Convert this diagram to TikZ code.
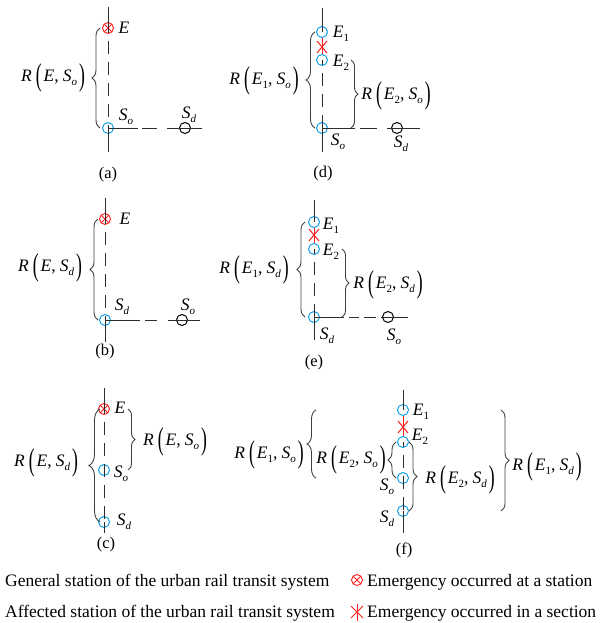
\documentclass[tikz,border=0pt]{standalone}
\usepackage{fontspec}
\setmainfont{Liberation Serif}
\usepackage{graphicx}
\usetikzlibrary{decorations.pathreplacing,shapes.misc}
\definecolor{stblue}{RGB}{20,160,230}
\definecolor{emred}{RGB}{250,30,30}
\definecolor{lncol}{RGB}{45,45,45}
\newcommand\mySUB[1]{\raisebox{-4.5pt}{\fontsize{11}{11}\selectfont #1}}
\newcommand\myLP{\raisebox{-4.5pt}{\scalebox{1}[1.8]{(}}}
\newcommand\myRP{\raisebox{-4.5pt}{\scalebox{1}[1.8]{)}}}
\newcommand\myE{\textit{E}}
\newcommand\myEa{\textit{E}\mySUB{1}}
\newcommand\myEb{\textit{E}\mySUB{2}}
\newcommand\mySo{\textit{S}\mySUB{\itshape o}}
\newcommand\mySd{\textit{S}\mySUB{\itshape d}}
\newcommand\myR[2]{\textit{R}\hspace{4pt}\myLP\hspace{2pt}#1,\hspace{4pt}#2\hspace{2pt}\myRP}
\tikzset{
  ln/.style={draw=lncol, line width=1pt},
  dashv/.style={ln, dash pattern=on 13pt off 8pt, dash phase=8pt},
  redln/.style={draw=emred, line width=1pt},
  gst/.style={circle, draw=stblue, line width=1pt, minimum size=11pt, inner sep=0pt},
  ost/.style={circle, draw=black, line width=1pt, minimum size=11pt, inner sep=0pt},
  est/.style={circle, draw=emred, line width=0.9pt, minimum size=11pt, inner sep=0pt,
    path picture={\draw[emred,line width=0.9pt]
      (path picture bounding box.north west)--(path picture bounding box.south east)
      (path picture bounding box.north east)--(path picture bounding box.south west);}},
  xsec/.style={cross out, draw=emred, line width=1pt, minimum width=9pt, minimum height=11pt, inner sep=0pt},
  lbl/.style={inner sep=0pt, font=\fontsize{17.5}{21}\selectfont},
  capt/.style={inner sep=0pt, font=\fontsize{16.5}{20}\selectfont},
  lbr/.style={draw=black!75, line width=0.9pt, decorate, decoration={brace, amplitude=#1}},
  lbr/.default=8pt,
}
\begin{document}
\begin{tikzpicture}[x=1pt,y=-1pt]
\path[use as bounding box] (0,0) rectangle (602,623);

% ---------- (a)
\coordinate (aT) at (108,7); \coordinate (aB) at (108,152); \coordinate (aR) at (202,128);
\node[est] (aE) at (108,28) {};
\node[gst] (aSo) at (108,128) {};
\node[ost] (aSd) at (185,128) {};
\draw[ln] (aT) -- (aE.center);
\draw[dashv] (aE.center) -- (aSo.center);
\draw[ln] (aSo.center) -- (aB);
\draw[ln, dash pattern=on 30pt off 4pt on 15pt off 10pt on 100pt] (aSo.center) -- (aR);
\node[lbl] (aEl) at (124,28) {\myE};
\node[lbl] (aSol) at (126,117) {\mySo};
\node[lbl] (aSdl) at (189,115) {\mySd};
\draw[lbr] ([xshift=-8pt]aSo.center) -- ([xshift=-8pt]aE.center);
\node[lbl] (aRl) at (53,78) {\myR{\myE}{\mySo}};
\node[capt] (acap) at (108,175) {(a)};

% ---------- (b)
\coordinate (bT) at (105,198); \coordinate (bB) at (105,342); \coordinate (bR) at (200,320);
\node[est] (bE) at (105,219) {};
\node[gst] (bSd) at (105,320) {};
\node[ost] (bSo) at (182,320) {};
\draw[ln] (bT) -- (bE.center);
\draw[dashv] (bE.center) -- (bSd.center);
\draw[ln] (bSd.center) -- (bB);
\draw[ln, dash pattern=on 35pt off 5pt on 12pt off 11pt on 100pt] (bSd.center) -- (bR);
\node[lbl] (bEl) at (125,219) {\myE};
\node[lbl] (bSdl) at (122,307) {\mySd};
\node[lbl] (bSol) at (188,307) {\mySo};
\draw[lbr] ([xshift=-7pt]bSd.center) -- ([xshift=-7pt]bE.center);
\node[lbl] (bRl) at (50,268) {\myR{\myE}{\mySd}};
\node[capt] (bcap) at (105,352) {(b)};

% ---------- (c)
\coordinate (cT) at (104,388); \coordinate (cB) at (104,533);
\node[est] (cE) at (104,409) {};
\node[gst] (cSo) at (104,470) {};
\node[gst] (cSd) at (104,522) {};
\draw[ln] (cT) -- (cE.center);
\draw[dashv] (cE.center) -- (cSd.center);
\draw[ln] (cSd.center) -- (cB);
\node[lbl] (cEl) at (120,408) {\myE};
\node[lbl] (cSol) at (121,474) {\mySo};
\node[lbl] (cSdl) at (124,522) {\mySd};
\draw[lbr=11pt] ([xshift=-4pt]cSd.center) -- ([xshift=-4pt]cE.center);
\draw[lbr=7pt] ([xshift=24pt]cE.center) -- ([xshift=24pt]cSo.center);
\node[lbl] (cRdl) at (46,463) {\myR{\myE}{\mySd}};
\node[lbl] (cRol) at (175,442) {\myR{\myE}{\mySo}};
\node[capt] (ccap) at (106,545) {(c)};

% ---------- (d)
\coordinate (dT) at (322,8); \coordinate (dB) at (322,152); \coordinate (dR) at (420,128);
\node[gst] (dE1) at (322,32) {};
\node[gst] (dE2) at (322,60) {};
\node[gst] (dSo) at (322,128) {};
\node[ost] (dSd) at (397,128) {};
\draw[ln] (dT) -- (dE1.center);
\draw[redln] (dE1.south) -- (dE2.north);
\node[xsec] (dX) at (322,47) {};
\draw[dashv] (dE2.center) -- (dSo.center);
\draw[ln] (dSo.center) -- (dB);
\draw[ln, dash pattern=on 33pt off 5pt on 17pt off 10pt on 100pt] (dSo.center) -- (dR);
\node[lbl] (dE1l) at (341,34) {\myEa};
\node[lbl] (dE2l) at (341,63) {\myEb};
\node[lbl] (dSol) at (338,142) {\mySo};
\node[lbl] (dSdl) at (401,144) {\mySd};
\draw[lbr=9pt] ([xshift=-7pt]dSo.center) -- ([xshift=-7pt]dE1.center);
\draw[lbr=7pt] ([xshift=29pt]dE2.center) -- ([xshift=29pt]dSo.center);
\node[lbl] (dR1l) at (264,81) {\myR{\myEa}{\mySo}};
\node[lbl] (dR2l) at (396,96) {\myR{\myEb}{\mySo}};
\node[capt] (dcap) at (323,174) {(d)};

% ---------- (e)
\coordinate (eT) at (314,200); \coordinate (eB) at (314,340); \coordinate (eR) at (408,317);
\node[gst] (eE1) at (314,222) {};
\node[gst] (eE2) at (314,249) {};
\node[gst] (eSd) at (314,317) {};
\node[ost] (eSo) at (388,317) {};
\draw[ln] (eT) -- (eE1.center);
\draw[redln] (eE1.south) -- (eE2.north);
\node[xsec] (eX) at (314,235) {};
\draw[dashv] (eE2.center) -- (eSd.center);
\draw[ln] (eSd.center) -- (eB);
\draw[ln, dash pattern=on 30pt off 5pt on 10pt off 5pt on 12pt off 5pt on 100pt] (eSd.center) -- (eR);
\node[lbl] (eE1l) at (331,226) {\myEa};
\node[lbl] (eE2l) at (331,252) {\myEb};
\node[lbl] (eSdl) at (327,336) {\mySd};
\node[lbl] (eSol) at (394,337) {\mySo};
\draw[lbr=8pt] ([xshift=-9pt]eSd.center) -- ([xshift=-9pt]eE1.center);
\draw[lbr=7pt] ([xshift=28pt]eE2.center) -- ([xshift=28pt]eSd.center);
\node[lbl] (eR1l) at (254,270) {\myR{\myEa}{\mySd}};
\node[lbl] (eR2l) at (388,285) {\myR{\myEb}{\mySd}};
\node[capt] (ecap) at (314,363) {(e)};

% ---------- (f)
\coordinate (fT) at (403,390); \coordinate (fB) at (403,533);
\node[gst] (fE1) at (403,410) {};
\node[gst] (fE2) at (403,442) {};
\node[gst] (fSo) at (403,478) {};
\node[gst] (fSd) at (403,511) {};
\draw[ln] (fT) -- (fE1.center);
\draw[redln] (fE1.south) -- (fE2.north);
\node[xsec] (fX) at (403,427) {};
\draw[dashv] (fE2.center) -- (fSd.center);
\draw[ln] (fSd.center) -- (fB);
\node[lbl] (fE1l) at (421,412) {\myEa};
\node[lbl] (fE2l) at (420,437) {\myEb};
\node[lbl] (fSol) at (387,487) {\mySo};
\node[lbl] (fSdl) at (387,519) {\mySd};
\draw[lbr=9pt] ([xshift=-87pt]fSo.center) -- ([xshift=-87pt]fE1.center);
\draw[lbr=8pt] ([xshift=-7pt]fSo.center) -- ([xshift=-7pt]fE2.center);
\draw[lbr=8pt] ([xshift=6pt]fE2.center) -- ([xshift=6pt]fSd.center);
\draw[lbr=8pt] ([xshift=98pt]fE1.center) -- ([xshift=98pt]fSd.center);
\node[lbl] (fR1l) at (269,455) {\myR{\myEa}{\mySo}};
\node[lbl] (fR2l) at (351,460) {\myR{\myEb}{\mySo}};
\node[lbl] (fR3l) at (460,480) {\myR{\myEb}{\mySd}};
\node[lbl] (fR4l) at (547,467) {\myR{\myEa}{\mySd}};
\node[capt] (fcap) at (404,550) {(f)};

% ---------- legend
\node[lbl, anchor=base west] (lg1) at (5,586) {General station of the urban rail transit system};
\node[lbl, anchor=base west] (lg2) at (5,617) {Affected station of the urban rail transit system};
\node[est] (lgE) at (357,580) {};
\node[lbl, anchor=base west] (lg3) at (367,586) {Emergency occurred at a station};
\coordinate (lgT) at (357,604); \coordinate (lgB) at (357,621);
\draw[redln] (lgT) -- (lgB);
\node[xsec, minimum width=11pt, minimum height=11pt] (lgX) at (357,612) {};
\node[lbl, anchor=base west] (lg4) at (367,617) {Emergency occurred in a section};
\end{tikzpicture}
\end{document}
